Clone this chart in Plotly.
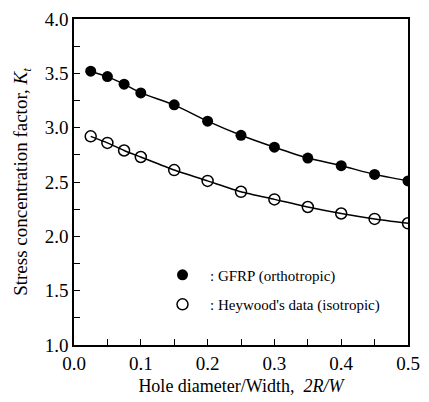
import plotly.graph_objects as go

ratio = [0.025, 0.05, 0.075, 0.1, 0.15, 0.2, 0.25, 0.3, 0.35, 0.4, 0.45, 0.5]
gfrp = [3.52, 3.47, 3.40, 3.32, 3.21, 3.06, 2.93, 2.82, 2.72, 2.65, 2.57, 2.51]
heywood = [2.92, 2.86, 2.79, 2.73, 2.61, 2.51, 2.41, 2.34, 2.27, 2.21, 2.16, 2.12]
names = ["  : GFRP (orthotropic)", "  : Heywood's data (isotropic)"]

FONT = "Liberation Serif, Times New Roman, serif"

fig = go.Figure()
for ys in (gfrp, heywood):
    fig.add_trace(go.Scatter(
        x=ratio, y=ys, mode="lines", showlegend=False, hoverinfo="skip",
        line=dict(color="black", width=1.5, shape="spline", smoothing=0.6),
    ))
fig.add_trace(go.Scatter(
    x=ratio, y=gfrp, name=names[0], mode="markers",
    marker=dict(symbol="circle", size=11, color="black"),
    legendgroup="a",
))
fig.add_trace(go.Scatter(
    x=ratio, y=heywood, name=names[1], mode="markers",
    marker=dict(symbol="circle-open", size=11, color="black", line=dict(width=1.5)),
    legendgroup="b",
))

axis_common = dict(
    showline=True, linecolor="black", linewidth=1.5, mirror=True,
    ticks="inside", ticklen=6, tickwidth=1.3, tickcolor="black",
    showgrid=False, zeroline=False,
    tickfont=dict(family=FONT, size=19, color="black"),
)

fig.update_layout(
    width=429, height=402,
    margin=dict(l=74, r=15, t=9, b=56),
    paper_bgcolor="white", plot_bgcolor="white",
    font=dict(family=FONT, color="black"),
    showlegend=True,
    legend=dict(
        x=0.265, y=0.17, xanchor="left", yanchor="middle",
        bgcolor="rgba(0,0,0,0)", font=dict(family=FONT, size=15, color="black"),
        tracegroupgap=7, itemwidth=30,
    ),
    xaxis=dict(
        range=[0, 0.5], tickvals=[0, 0.1, 0.2, 0.3, 0.4, 0.5],
        ticktext=["0.0", "0.1", "0.2", "0.3", "0.4", "0.5"],
        minor=dict(dtick=0.05, ticks="inside", ticklen=6, tickcolor="black", tickwidth=1.3),
        title=dict(text="Hole diameter/Width,  <i>2R/W</i>",
                   font=dict(family=FONT, size=18, color="black"), standoff=7),
        **axis_common,
    ),
    yaxis=dict(
        range=[1.0, 4.0], tickvals=[1.0, 1.5, 2.0, 2.5, 3.0, 3.5, 4.0],
        ticktext=["1.0", "1.5", "2.0", "2.5", "3.0", "3.5", "4.0"],
        minor=dict(dtick=0.25, ticks="inside", ticklen=6, tickcolor="black", tickwidth=1.3),
        title=dict(text="Stress concentration factor, <i>K<sub>t</sub></i>",
                   font=dict(family=FONT, size=19, color="black"), standoff=12),
        **axis_common,
    ),
)

fig.write_html("out.html")
